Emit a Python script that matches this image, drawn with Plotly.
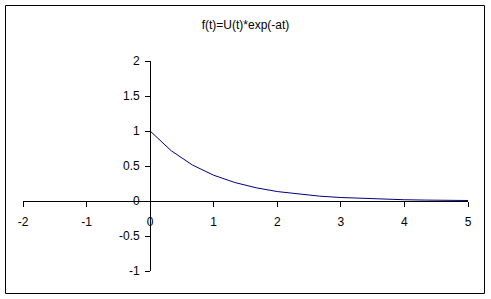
import plotly.graph_objects as go

title_text = "f(t)=U(t)*exp(-at)"
t_vals = [0, 0.333, 0.667, 1.0, 1.333, 1.667, 2.0, 2.333, 2.667, 3.0, 3.333, 3.667, 4.0, 4.333, 4.667, 5.0]
f_vals = [1.0, 0.717, 0.513, 0.368, 0.264, 0.189, 0.135, 0.097, 0.069, 0.050, 0.036, 0.026, 0.018, 0.013, 0.009, 0.007]
x_ticks = [-2, -1, 0, 1, 2, 3, 4, 5]
x_labels = ["-2", "-1", "0", "1", "2", "3", "4", "5"]
y_ticks = [-1, -0.5, 0, 0.5, 1, 1.5, 2]
y_labels = ["-1", "-0.5", "0", "0.5", "1", "1.5", "2"]

W, H = 491, 299
L, R, T, B = 23, 23, 61, 28
pw = W - L - R
ph = H - T - B

fig = go.Figure()
fig.add_trace(go.Scatter(x=t_vals, y=f_vals, mode="lines",
                         line=dict(color="#000080", width=1), hoverinfo="skip"))

axis_common = dict(showgrid=False, zeroline=False, showline=True, linecolor="black",
                   linewidth=1, ticks="outside", ticklen=5, tickwidth=1, tickcolor="black",
                   tickfont=dict(family="Arial, Liberation Sans", size=12, color="black"),
                   anchor="free")

fig.update_layout(
    width=W, height=H,
    margin=dict(l=L, r=R, t=T, b=B, pad=0),
    paper_bgcolor="white", plot_bgcolor="white",
    showlegend=False,
    title=dict(text=title_text, x=0.5, xanchor="center", y=1 - 24.5 / H, yanchor="middle",
               font=dict(family="Arial, Liberation Sans", size=12, color="black")),
    xaxis=dict(range=[-2, 5], tickvals=x_ticks, ticktext=x_labels, ticklabelstandoff=5,
               position=(0 - (-1)) / 3, **axis_common),
    yaxis=dict(range=[-1, 2], tickvals=y_ticks, ticktext=y_labels, ticklabelstandoff=3,
               position=(0 - (-2)) / 7, **axis_common),
    shapes=[dict(type="rect", xref="paper", yref="paper",
                 x0=(5.5 - L) / pw, x1=(484.5 - L) / pw,
                 y0=(H - B - 293.5) / ph, y1=(H - B - 5.5) / ph,
                 line=dict(color="black", width=1), fillcolor="rgba(0,0,0,0)")],
)

fig.write_html("out.html")
